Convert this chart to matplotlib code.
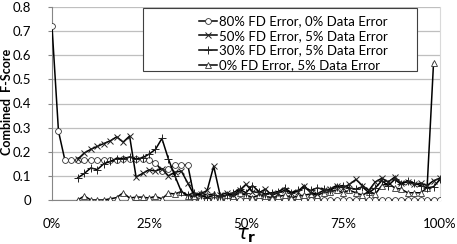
import matplotlib
matplotlib.use("Agg")
import matplotlib.pyplot as plt
import numpy as np
from matplotlib.patches import Rectangle
from matplotlib.ticker import FuncFormatter

nan = np.nan

tau = [0, 1.67, 3.33, 5.0, 6.67, 8.33, 10.0, 11.67, 13.33, 15.0, 16.67, 18.33, 20.0, 21.67,
       23.33, 25.0, 26.67, 28.33, 30.0, 31.67, 33.33, 35.0, 36.67, 38.33, 40.0, 41.67, 43.33,
       45.0, 46.67, 48.33, 50.0, 51.67, 53.33, 55.0, 56.67, 58.33, 60.0, 61.67, 63.33, 65.0,
       66.67, 68.33, 70.0, 71.67, 73.33, 75.0, 76.67, 78.33, 80.0, 81.67, 83.33, 85.0, 86.67,
       88.33, 90.0, 91.67, 93.33, 95.0, 96.67, 98.33, 100.0]

fd80 = [0.72, 0.285, 0.165, 0.165, 0.165, 0.165, 0.165, 0.165, 0.165, 0.165, 0.165, 0.17, 0.17,
        0.17, 0.17, 0.165, 0.155, 0.12, 0.13, 0.145, 0.145, 0.145, 0.01,
        0, 0, 0, 0, 0, 0, 0, 0, 0, 0, 0, 0, 0, 0, 0, 0, 0, 0, 0,
        0, 0, 0, 0, 0, 0, 0, 0, 0, 0, 0, 0, 0, 0, 0, 0, 0, 0, 0]

fd50 = [nan, nan, nan, nan,
        0.17, 0.195, 0.21, 0.222, 0.234, 0.245, 0.262, 0.24, 0.265,
        0.095, 0.11, 0.125, 0.12, 0.13, 0.1, 0.115, 0.12, 0.07,
        0.02, 0.025, 0.04, 0.14, 0.02,
        0.03, 0.02, 0.04, 0.065, 0.035,
        0.03, 0.045, 0.02, 0.03, 0.04,
        0.03, 0.035, 0.06, 0.03, 0.025,
        0.04, 0.045, 0.06, 0.05, 0.065,
        0.085, 0.06, 0.04, 0.075, 0.09,
        0.075, 0.095, 0.07, 0.075, 0.065,
        0.07, 0.06, 0.08, 0.09]

fd30 = [nan, nan, nan, nan,
        0.092, 0.11, 0.133, 0.126, 0.15, 0.16, 0.172, 0.172, 0.178,
        0.17, 0.175, 0.19, 0.21, 0.255, 0.17, 0.1, 0.035, 0.02,
        0.03, 0.02, 0.01, 0.02, 0.015,
        0.02, 0.03, 0.045, 0.03, 0.06,
        0.035, 0.025, 0.03, 0.035, 0.05,
        0.03, 0.04, 0.05, 0.04, 0.05,
        0.045, 0.04, 0.055, 0.06, 0.05,
        0.045, 0.055, 0.03, 0.05, 0.08,
        0.06, 0.085, 0.065, 0.08, 0.07,
        0.06, 0.05, 0.055, 0.085]

fd0 = [nan, nan, nan, nan,
       0.0, 0.017, 0.0, 0.0, 0.0, 0.005, 0.01, 0.03, 0.008,
       0.012, 0.012, 0.008, 0.015, 0.005, 0.028, 0.025, 0.035, 0.015,
       0.015, 0.03, 0.02, 0.025, 0.01,
       0.02, 0.015, 0.03, 0.02, 0.01,
       0.02, 0.015, 0.01, 0.015, 0.02,
       0.01, 0.015, 0.02, 0.025, 0.02,
       0.03, 0.035, 0.04, 0.03, 0.04,
       0.03, 0.02, 0.035, 0.025, 0.06,
       0.07, 0.05, 0.045, 0.03, 0.03,
       0.03, 0.05, 0.567, nan]

labels = ["80% FD Error, 0% Data Error", "50% FD Error, 5% Data Error",
          "30% FD Error, 5% Data Error", "0% FD Error, 5% Data Error"]

plt.rcParams['font.family'] = ['Lato', 'DejaVu Sans']

fig = plt.figure(figsize=(4.57, 2.44), dpi=100)
ax = fig.add_axes([52/457, 1-200/244, 388/457, 193/244])

ms = 4.2
ax.plot(tau, fd80, color="black", lw=1.1, marker="o", ms=ms, mfc="white", mec="#333333", mew=0.6, label=labels[0], zorder=3)
ax.plot(tau, fd50, color="black", lw=1.1, marker="x", ms=ms, mec="#222222", mew=0.7, label=labels[1], zorder=4)
ax.plot(tau, fd30, color="black", lw=1.1, marker="+", ms=ms+1, mec="#222222", mew=0.7, label=labels[2], zorder=4)
ax.plot(tau, fd0, color="black", lw=1.1, marker="^", ms=ms, mfc="white", mec="#333333", mew=0.6, label=labels[3], zorder=3)

ax.set_xlim(0, 100)
ax.set_ylim(0, 0.8)
ax.set_xticks([0, 25, 50, 75, 100])
ax.xaxis.set_major_formatter(FuncFormatter(lambda v, p: "{:d}%".format(int(v))))
ax.set_yticks([0, 0.1, 0.2, 0.3, 0.4, 0.5, 0.6, 0.7, 0.8])
ax.yaxis.set_major_formatter(FuncFormatter(lambda v, p: "0" if v == 0 else "{:.1f}".format(v)))
ax.grid(axis="y", color="#bfbfbf", lw=0.9)
ax.set_axisbelow(True)
ax.tick_params(axis="x", length=0, pad=13, labelsize=9.5)
ax.tick_params(axis="y", length=3, color="#868686", pad=12, labelsize=9.5)
ax.spines["top"].set_visible(False)
ax.spines["right"].set_color("#d9d9d9")
ax.spines["left"].set_color("#868686")
ax.spines["bottom"].set_color("#868686")

ax.set_ylabel("Combined  F-Score", fontsize=9, fontweight="bold")
ax.yaxis.set_label_coords(-0.1, 0.508)
ax.set_xlabel(r"$\tau_\mathbf{r}$", fontsize=14)
ax.xaxis.set_label_coords(0.5, -0.14)

ax.add_patch(Rectangle((91/388, 1-64/193), 274/388, 63/193, transform=ax.transAxes,
                       facecolor="white", edgecolor="#404040", lw=0.8, zorder=5))
leg = ax.legend(loc="upper left", bbox_to_anchor=(136/388, 1.012), frameon=False,
                fontsize=9.5, handlelength=1.4, handletextpad=0.15, labelspacing=0.2,
                borderpad=0.3)
leg.set_zorder(6)

fig.savefig("out.png", dpi=100)
